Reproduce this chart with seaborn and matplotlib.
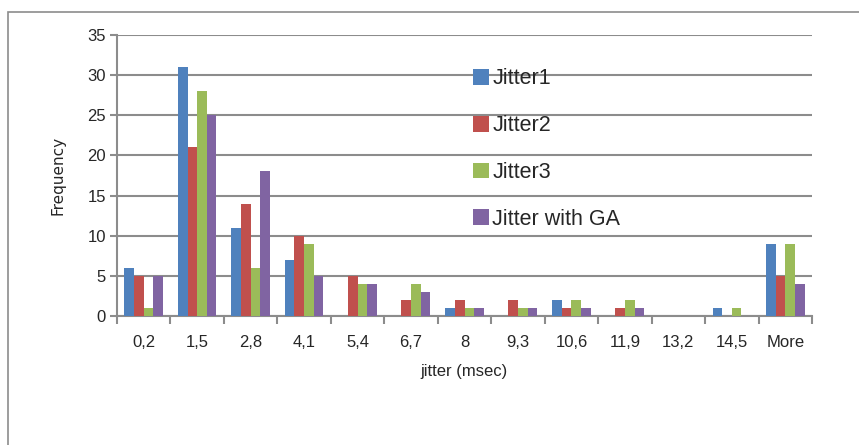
import matplotlib
matplotlib.use("Agg")
import matplotlib.pyplot as plt
from matplotlib.patches import Rectangle
from matplotlib.ticker import FixedLocator
import seaborn as sns
import pandas as pd
import numpy as np

bins = ["0,2", "1,5", "2,8", "4,1", "5,4", "6,7", "8", "9,3",
        "10,6", "11,9", "13,2", "14,5", "More"]
jitter1 = [6, 31, 11, 7, 0, 0, 1, 0, 2, 0, 0, 1, 9]
jitter2 = [5, 21, 14, 10, 5, 2, 2, 2, 1, 1, 0, 0, 5]
jitter3 = [1, 28, 6, 9, 4, 4, 1, 1, 2, 2, 0, 1, 9]
jitter_ga = [5, 25, 18, 5, 4, 3, 1, 1, 1, 1, 0, 0, 4]
series_names = ["Jitter1", "Jitter2", "Jitter3", "Jitter with GA"]
colors = ["#4F81BD", "#C0504D", "#9BBB59", "#8064A2"]

rows = []
for name, vals in zip(series_names, [jitter1, jitter2, jitter3, jitter_ga]):
    for b, v in zip(bins, vals):
        rows.append({"bin": b, "series": name, "freq": v})
df = pd.DataFrame(rows)

sns.set_theme(style="white")
font = ["Liberation Sans Narrow", "Liberation Sans", "DejaVu Sans"]
plt.rcParams["font.family"] = font

fig = plt.figure(figsize=(8.59, 4.45), dpi=100)
ax = fig.add_axes([117 / 859, 1 - 316 / 445, (812 - 117) / 859, (316 - 35) / 445])

# outer chart frame
fig.patches.append(Rectangle((8 / 859, -0.1), 1.2, 1 - 12 / 445 + 0.1,
                             transform=fig.transFigure, fill=False,
                             edgecolor="#8c8c8c", linewidth=1.2, zorder=0))

sns.barplot(data=df, x="bin", y="freq", hue="series", order=bins,
            hue_order=series_names, palette=colors, width=0.72, gap=0,
            saturation=1, edgecolor="none", ax=ax, zorder=3)

ax.set_ylim(0, 35)
ax.set_xlim(-0.5, len(bins) - 0.5)
ax.set_yticks(np.arange(0, 36, 5))
ax.yaxis.grid(True, color="#8c8c8c", linewidth=1.5, zorder=0)
ax.set_axisbelow(True)
for s in ["top", "right"]:
    ax.spines[s].set_visible(False)
for s in ["left", "bottom"]:
    ax.spines[s].set_color("#8c8c8c")
    ax.spines[s].set_linewidth(1.5)

ax.tick_params(axis="y", length=5, width=1.5, color="#8c8c8c", pad=3,
               labelsize=12, left=True)
ax.tick_params(axis="x", which="major", length=0, pad=14, labelsize=12)
ax.xaxis.set_minor_locator(FixedLocator(np.arange(-0.5, len(bins), 1.0)))
ax.tick_params(axis="x", which="minor", length=6, width=1.5,
               color="#8c8c8c", bottom=True)

ax.set_xlabel("jitter (msec)", fontsize=12, labelpad=10)
ax.set_ylabel("Frequency", fontsize=11, labelpad=16,
              family=["DejaVu Sans"])

leg = ax.legend(loc="upper left", bbox_to_anchor=(0.5, 0.912), frameon=False,
                fontsize=15.5, handlelength=0.75, handleheight=0.75,
                handletextpad=0.15, labelspacing=1.2, borderaxespad=0)

fig.savefig("out.png", dpi=100, facecolor="white")
